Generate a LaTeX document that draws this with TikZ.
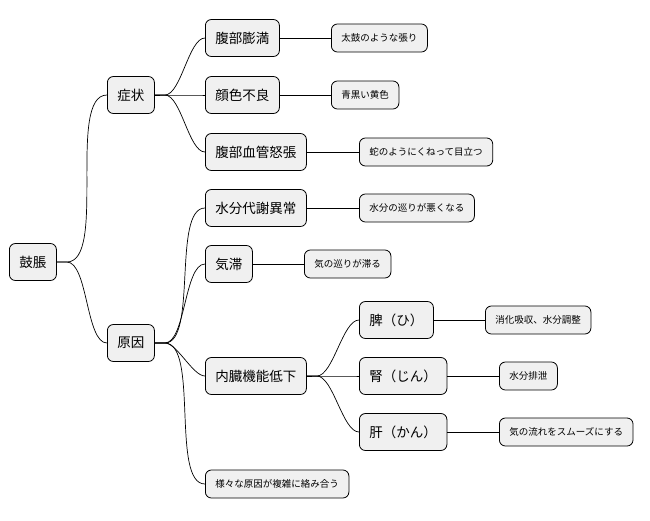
\documentclass[tikz,border=0pt]{standalone}
\usepackage{fontspec}
\setmainfont{Noto Sans CJK JP}
\begin{document}
\begin{tikzpicture}[x=1pt,y=-1pt,
  big/.style={draw=black,line width=0.8pt,fill=black!6,rounded corners=6pt,font=\fontsize{13.5}{15}\selectfont,inner xsep=10pt,minimum height=37pt},
  small/.style={draw=black,line width=0.8pt,fill=black!6,rounded corners=6pt,font=\fontsize{9.5}{11}\selectfont,inner xsep=10pt,minimum height=28pt},
  ed/.style={line width=0.7pt},
  every node/.style={anchor=west}]
\useasboundingbox (0,0) rectangle (650,520);
\node[big] (root) at (9,262) {鼓脹};
\node[big] (sym) at (107,95) {症状};
\node[big] (cau) at (107,343) {原因};
\node[big] (a1) at (205,38) {腹部膨満};
\node[big] (a2) at (205,95) {顔色不良};
\node[big] (a3) at (205,152) {腹部血管怒張};
\node[small] (b1) at (331,38) {太鼓のような張り};
\node[small] (b2) at (331,95) {青黒い黄色};
\node[small] (b3) at (359,152) {蛇のようにくねって目立つ};
\node[big] (c1) at (205,208) {水分代謝異常};
\node[big] (c2) at (205,264) {気滞};
\node[big] (c3) at (205,376) {内臓機能低下};
\node[small] (c4) at (205,484) {様々な原因が複雑に絡み合う};
\node[small] (d1) at (359,208) {水分の巡りが悪くなる};
\node[small] (d2) at (304,264) {気の巡りが滞る};
\node[big] (e1) at (359,320) {脾（ひ）};
\node[big] (e2) at (359,376) {腎（じん）};
\node[big] (e3) at (359,432) {肝（かん）};
\node[small] (f1) at (485,320) {消化吸収、水分調整};
\node[small] (f2) at (499,376) {水分排泄};
\node[small] (f3) at (499,432) {気の流れをスムーズにする};
\foreach \p/\c in {root/sym,root/cau,sym/a1,sym/a2,sym/a3,cau/c1,cau/c2,cau/c3,cau/c4,c3/e1,c3/e2,c3/e3}
  \draw[ed] (\p.east) -- ++(10,0) to[out=0,in=180,looseness=0.6] (\c.west);
\foreach \p/\c in {a1/b1,a2/b2,a3/b3,c1/d1,c2/d2,e1/f1,e2/f2,e3/f3}
  \draw[ed] (\p.east) -- (\c.west);
\end{tikzpicture}
\end{document}
